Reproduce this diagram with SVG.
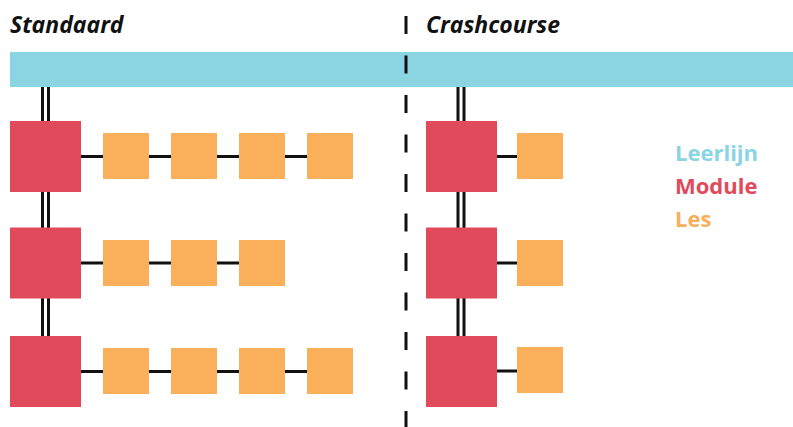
<svg xmlns="http://www.w3.org/2000/svg" width="793" height="427" viewBox="0 0 793 427">
<style>
.t{font-family:"Open Sans","Liberation Sans",sans-serif;font-weight:700}
.h{font-style:italic;font-size:23px;fill:#111}
.lg{font-size:22px}
.mod{fill:#E04A5A}
.les{fill:#FAAF5B}
.ln{stroke:#111;stroke-width:3;fill:none}
</style>
<rect width="793" height="427" fill="#fff"/>
<g id="leerlijn"><rect x="10" y="52" width="783" height="35" fill="#8BD4E2"/></g>
<g id="connectors">
<path class="ln" d="M42.5 87V336M48.5 87V336M458 87V336M464 87V336"/>
<path class="ln" d="M81 156.5H307M81 263H239M81 371.5H307M497 156.5H517M497 263H517M497 371H517"/>
<line x1="406" y1="16" x2="406" y2="427" stroke="#111" stroke-width="3" stroke-dasharray="18 21.5"/>
</g>
<g id="std-row1"><rect class="mod" x="10" y="121" width="71" height="71"/><rect class="les" x="103" y="133" width="46" height="46"/><rect class="les" x="171" y="133" width="46" height="46"/><rect class="les" x="239" y="133" width="46" height="46"/><rect class="les" x="307" y="133" width="46" height="46"/></g>
<g id="std-row2"><rect class="mod" x="10" y="227.5" width="71" height="71"/><rect class="les" x="103" y="240" width="46" height="46"/><rect class="les" x="171" y="240" width="46" height="46"/><rect class="les" x="239" y="240" width="46" height="46"/></g>
<g id="std-row3"><rect class="mod" x="10" y="336" width="71" height="71"/><rect class="les" x="103" y="348" width="46" height="46"/><rect class="les" x="171" y="348" width="46" height="46"/><rect class="les" x="239" y="348" width="46" height="46"/><rect class="les" x="307" y="348" width="46" height="46"/></g>
<g id="crash-row1"><rect class="mod" x="426" y="121" width="71" height="71"/><rect class="les" x="517" y="133" width="46" height="46"/></g>
<g id="crash-row2"><rect class="mod" x="426" y="227.5" width="71" height="71"/><rect class="les" x="517" y="240" width="46" height="46"/></g>
<g id="crash-row3"><rect class="mod" x="426" y="336" width="71" height="71"/><rect class="les" x="517" y="347" width="46" height="46"/></g>
<g id="titles">
<text class="t h" x="10" y="33">Standaard</text>
<text class="t h" x="426" y="33">Crashcourse</text>
</g>
<g id="legend">
<text class="t lg" x="675" y="161" fill="#8BD4E2">Leerlijn</text>
<text class="t lg" x="675" y="194" fill="#E04A5A">Module</text>
<text class="t lg" x="675" y="227" fill="#FAAF5B">Les</text>
</g>
</svg>
